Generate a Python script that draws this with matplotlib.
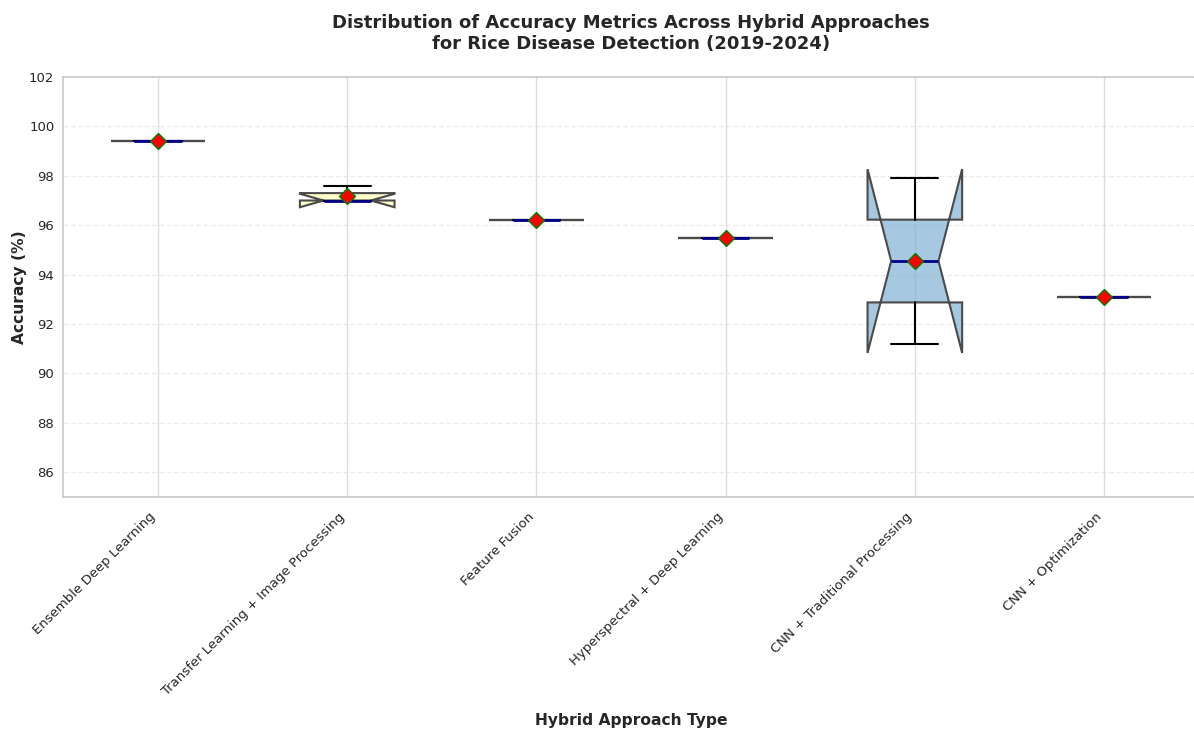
import matplotlib
matplotlib.use("Agg")
import matplotlib.pyplot as plt
from matplotlib.colors import to_rgba
import seaborn as sns

sns.set_theme(style="whitegrid")
plt.rcParams['font.family'] = ['DejaVu Sans']

# Accuracy (%) reported per hybrid approach
approaches = [
    "Ensemble Deep Learning",
    "Transfer Learning + Image Processing",
    "Feature Fusion",
    "Hyperspectral + Deep Learning",
    "CNN + Traditional Processing",
    "CNN + Optimization",
]
ensemble_dl = [99.4]
transfer_ip = [97.0, 97.0, 97.6]
feature_fusion = [96.2]
hyperspectral_dl = [95.5]
cnn_traditional = [91.2, 97.9]
cnn_optimization = [93.1]

data = [ensemble_dl, transfer_ip, feature_fusion,
        hyperspectral_dl, cnn_traditional, cnn_optimization]
palette = sns.color_palette("Set3", len(approaches))

fig = plt.figure(figsize=(11.94, 7.31), dpi=100)
ax = fig.add_axes([0.0531, 0.3201, 0.9508, 0.5746])

bp = ax.boxplot(
    data,
    notch=True,
    patch_artist=True,
    showmeans=True,
    widths=0.5,
    medianprops=dict(color="darkblue", linewidth=2),
    meanprops=dict(marker="D", markerfacecolor="red", markeredgecolor="green",
                   markersize=8),
    whiskerprops=dict(color="black", linewidth=1.5),
    capprops=dict(color="black", linewidth=1.5),
    boxprops=dict(linewidth=1.5),
    flierprops=dict(marker="o", markersize=5),
)
for patch, color in zip(bp["boxes"], palette):
    patch.set_facecolor(to_rgba(color, 0.7))
    patch.set_edgecolor("#4a4a4a")

ax.set_xticks(range(1, len(approaches) + 1))
ax.set_xticklabels(approaches, rotation=45, ha="right", fontsize=9.5)
ax.tick_params(axis="y", labelsize=9.5, pad=0.5)
ax.set_xlim(0.5, 6.5)
ax.set_ylim(85, 102)
ax.set_yticks(range(86, 103, 2))

ax.yaxis.grid(True, linestyle="--", alpha=0.4)
ax.xaxis.grid(True, color="#dddddd", linewidth=1)

ax.set_title("Distribution of Accuracy Metrics Across Hybrid Approaches\n"
             "for Rice Disease Detection (2019-2024)",
             fontsize=13, fontweight="bold", pad=20)
ax.set_xlabel("Hybrid Approach Type", fontsize=11.2, fontweight="bold",
              labelpad=11)
ax.set_ylabel("Accuracy (%)", fontsize=11.2, fontweight="bold")
ax.yaxis.set_label_coords(-0.032, 0.5)

fig.savefig("out.png", dpi=100)
